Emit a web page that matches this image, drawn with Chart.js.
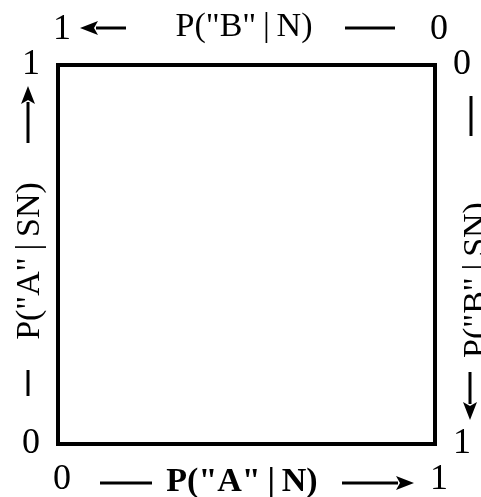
<!DOCTYPE html>
<html><head><meta charset="utf-8">
<script src="https://cdn.jsdelivr.net/npm/chart.js@4"></script>
<style>html,body{margin:0;padding:0;background:#fff}canvas{display:block}</style>
</head><body>
<canvas id="c" width="481" height="497"></canvas>
<script>
// ---- data ----
const bottomTicks = [0, 1];   // P("A"|N)
const leftTicks = [0, 1];     // P("A"|SN)
const topTicks = [0, 1];      // P("B"|N) (reversed)
const rightTicks = [0, 1];    // P("B"|SN) (reversed)
const bottomTitle = 'P("A"\u2009|\u2009N)';
const topTitle = 'P("B"\u2009|\u2009N)';
const leftTitle = 'P("A"\u2009|\u2009SN)';
const rightTitle = 'P("B"\u2009|\u2009SN)';

const FONT = '"Liberation Serif", "DejaVu Serif", serif';
const tickFont = { family: FONT, size: 36 };

function axis(position, reverse, ticksArr, size, pad, offset) {
  const horiz = position === 'top' || position === 'bottom';
  return {
    type: 'linear', position, reverse, min: 0, max: 1,
    grid: { display: false, drawTicks: false, lineWidth: 4 },
    border: { display: true, width: 4, color: '#000' },
    ticks: { font: tickFont, color: '#000', padding: pad, maxRotation: 0, autoSkip: false,
             labelOffset: offset || 0, callback: v => String(v) },
    afterBuildTicks: s => { s.ticks = ticksArr.map(v => ({ value: v })); },
    afterFit: s => { if (horiz) s.height = size; else s.width = size; }
  };
}

function arrow(ctx, x1, y1, x2, y2) {
  const ang = Math.atan2(y2 - y1, x2 - x1);
  const L = 18, W = 7;
  const bx = x2 - L * Math.cos(ang), by = y2 - L * Math.sin(ang);
  ctx.beginPath(); ctx.moveTo(x1, y1); ctx.lineTo(bx + 2 * Math.cos(ang), by + 2 * Math.sin(ang)); ctx.stroke();
  ctx.beginPath();
  ctx.moveTo(x2, y2);
  ctx.lineTo(bx + W * Math.sin(ang), by - W * Math.cos(ang));
  ctx.lineTo(bx + 4 * Math.cos(ang), by + 4 * Math.sin(ang));
  ctx.lineTo(bx - W * Math.sin(ang), by + W * Math.cos(ang));
  ctx.closePath(); ctx.fill();
}
function dash(ctx, x1, y1, x2, y2) {
  ctx.beginPath(); ctx.moveTo(x1, y1); ctx.lineTo(x2, y2); ctx.stroke();
}

const deco = {
  id: 'deco',
  beforeDraw(chart) { chart.ctx.lineCap = 'butt'; },
  afterDraw(chart) {
    const ctx = chart.ctx, a = chart.chartArea;
    ctx.save();
    ctx.fillStyle = '#000'; ctx.strokeStyle = '#000'; ctx.lineWidth = 3;
    ctx.textAlign = 'center'; ctx.textBaseline = 'middle';
    // top row
    const ty = a.top - 38;
    ctx.font = '34px ' + FONT;
    ctx.fillText(topTitle, 244, ty);
    arrow(ctx, 126, 28, 80, 28);
    dash(ctx, 345, 28, 395, 28);
    // bottom row
    const by = a.bottom + 38;
    ctx.font = 'bold 34px ' + FONT;
    ctx.fillText(bottomTitle, 242, by);
    dash(ctx, 100, 483, 152, 483);
    arrow(ctx, 342, 483, 414, 483);
    // left column
    ctx.font = '34px ' + FONT;
    ctx.save(); ctx.translate(30, 261); ctx.rotate(-Math.PI / 2); ctx.fillText(leftTitle, 0, 0); ctx.restore();
    arrow(ctx, 28, 143, 28, 86);
    dash(ctx, 28, 370, 28, 396);
    // right column
    ctx.save(); ctx.translate(477, 280); ctx.rotate(-Math.PI / 2); ctx.fillText(rightTitle, 0, 0); ctx.restore();
    dash(ctx, 471, 96, 471, 136);
    arrow(ctx, 470, 372, 470, 420);
    ctx.restore();
  }
};

new Chart(document.getElementById('c'), {
  type: 'scatter',
  data: { datasets: [{ data: [] }] },
  options: {
    responsive: false, animation: false,
    layout: { padding: 0 },
    plugins: { legend: { display: false }, tooltip: { enabled: false } },
    scales: {
      x: axis('bottom', false, bottomTicks, 53, 14, 4),
      x2: axis('top', true, topTicks, 65, 14, 4),
      y: axis('left', false, leftTicks, 58, 18, 0),
      y2: axis('right', true, rightTicks, 46, 18, 0)
    }
  },
  plugins: [deco]
});
</script>
</body></html>
